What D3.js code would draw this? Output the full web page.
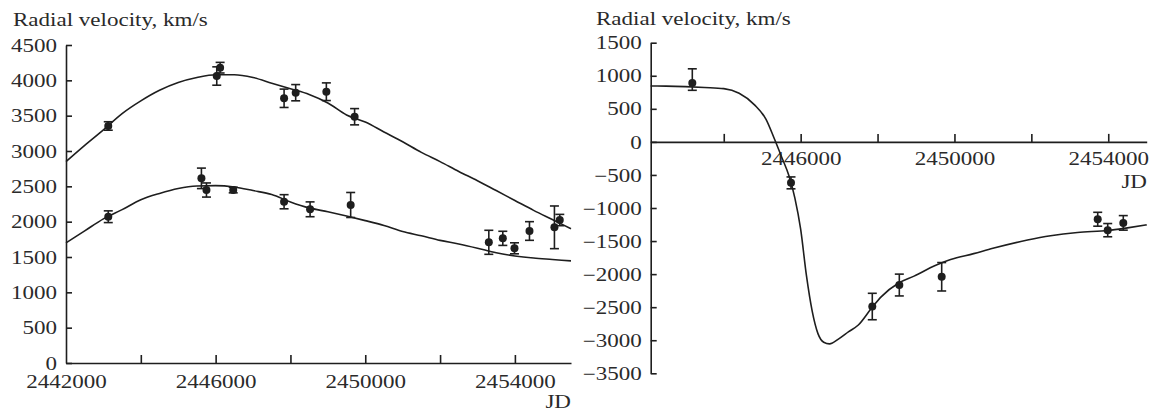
<!DOCTYPE html>
<html>
<head>
<meta charset="utf-8">
<script src="https://cdn.jsdelivr.net/npm/d3@7"></script>
<style>
  html, body { margin: 0; padding: 0; background: #fff; }
  svg { display: block; }
  text { font-family: "Liberation Serif", "Times New Roman", serif; fill: #2a2a2a; }
</style>
</head>
<body>
<svg id="chart" width="1155" height="414"></svg>
<script>
// ---------------- DATA ----------------
// Left panel: observed points [JD, velocity km/s, error]
const leftUpperPoints = [
  [2443130, 3354, 60],
  [2446030, 4061, 130],
  [2446120, 4179, 75],
  [2447830, 3746, 130],
  [2448140, 3825, 115],
  [2448960, 3839, 125],
  [2449715, 3485, 115],
  [2455057, 1920, 302],
  [2455200, 2023, 80]
];
const leftLowerPoints = [
  [2443130, 2070, 83],
  [2445620, 2613, 145],
  [2445755, 2448, 100],
  [2446470, 2448, 40],
  [2447830, 2282, 100],
  [2448525, 2175, 105],
  [2449610, 2236, 177],
  [2453303, 1708, 170],
  [2453677, 1764, 100],
  [2453989, 1623, 78],
  [2454390, 1868, 132]
];
// Left panel model curves [JD, velocity]
const leftUpperCurve = [
  [2442000, 2850], [2442500, 3080], [2443000, 3300], [2443500, 3530],
  [2444000, 3710], [2444500, 3860], [2445000, 3970], [2445500, 4040],
  [2446000, 4080], [2446500, 4080], [2447000, 4040], [2447500, 3960],
  [2448000, 3880], [2448500, 3800], [2449000, 3680], [2449500, 3510],
  [2450000, 3410], [2450500, 3270], [2451000, 3130], [2451500, 2980],
  [2452000, 2850], [2452500, 2710], [2453000, 2580], [2453500, 2440],
  [2454000, 2300], [2454500, 2160], [2455000, 2030], [2455500, 1900]
];
const leftLowerCurve = [
  [2442000, 1700], [2442500, 1870], [2443000, 2040], [2443500, 2170],
  [2444000, 2310], [2444500, 2400], [2445000, 2470], [2445500, 2505],
  [2446000, 2510], [2446500, 2490], [2447000, 2440], [2447500, 2385],
  [2448000, 2280], [2448500, 2195], [2449000, 2140], [2449500, 2080],
  [2450000, 2015], [2450500, 1945], [2451000, 1860], [2451500, 1800],
  [2452000, 1735], [2452500, 1685], [2453000, 1625], [2453500, 1560],
  [2454000, 1515], [2454500, 1485], [2455000, 1465], [2455500, 1445]
];
// Right panel: observed points [JD, velocity, error below, error above]
const rightPoints = [
  [2443182, 890, 110, 215],
  [2445749, -620, 90, 90],
  [2447863, -2490, 200, 200],
  [2448566, -2165, 165, 165],
  [2449668, -2040, 215, 215],
  [2453726, -1170, 105, 105],
  [2453986, -1335, 100, 100],
  [2454391, -1225, 110, 110]
];
const rightCurve = [
  [2442100, 845], [2442500, 843], [2443000, 835], [2443500, 822],
  [2444000, 805], [2444400, 735], [2444800, 560], [2445100, 340],
  [2445300, 70], [2445500, -220], [2445700, -520], [2445850, -850],
  [2446000, -1320], [2446150, -2020], [2446300, -2560], [2446450, -2900],
  [2446600, -3030], [2446750, -3055], [2447000, -2975], [2447250, -2870],
  [2447500, -2770], [2447850, -2510], [2448100, -2340], [2448550, -2135],
  [2448950, -2030], [2449500, -1870], [2449900, -1780], [2450500, -1690],
  [2451000, -1610], [2451900, -1485], [2452500, -1420], [2453200, -1370],
  [2454000, -1340], [2454500, -1300], [2455000, -1255]
];
// Tick values and labels
const leftXTicks = [2442000, 2444000, 2446000, 2448000, 2450000, 2452000, 2454000];
const leftXLabels = [2442000, 2446000, 2450000, 2454000];
const leftYTicks = [0, 500, 1000, 1500, 2000, 2500, 3000, 3500, 4000, 4500];
const rightXTicks = [2444000, 2446000, 2448000, 2450000, 2452000, 2454000];
const rightXLabels = [2446000, 2450000, 2454000];
const rightYTicks = [1500, 1000, 500, 0, -500, -1000, -1500, -2000, -2500, -3000, -3500];
const yTitle = "Radial velocity, km/s";
const xTitle = "JD";

// ---------------- DRAW ----------------
const svg = d3.select("#chart");
const FS = 18;       // font size
const SX = 1.28;     // horizontal glyph stretch of the scanned figure
const INK = "#1e1e1e";

function stretchText(sel) {
  sel.attr("transform", `scale(${SX},1)`);
}

function panel(cfg) {
  const g = svg.append("g");
  const x = cfg.x, y = cfg.y;

  // x axis
  const xAxis = d3.axisBottom(x)
    .tickValues(cfg.xTicks)
    .tickSizeInner(-8).tickSizeOuter(0)
    .tickFormat(d => cfg.xLabels.includes(d) ? String(d) : "");
  const gx = g.append("g").attr("transform", `translate(0,${y(cfg.xAt)})`).call(xAxis);
  gx.selectAll("text").attr("y", cfg.xLabelY).attr("dy", 0)
    .attr("font-size", FS).attr("font-family", "Liberation Serif, serif")
    .style("fill", "#2a2a2a").call(stretchText);
  gx.select(".domain").attr("stroke", INK).attr("stroke-width", 1.6);
  gx.selectAll(".tick line").attr("stroke", INK).attr("stroke-width", 1.6);
  if (cfg.hideFirstTickLine) gx.selectAll(".tick line").filter(d => d === cfg.xTicks[0]).remove();

  // y axis
  const yAxis = d3.axisLeft(y)
    .tickValues(cfg.yTicks)
    .tickSizeInner(-6).tickSizeOuter(0)
    .tickFormat(d3.format("d"));
  const gy = g.append("g").attr("transform", `translate(${x.range()[0]},0)`).call(yAxis);
  gy.selectAll("text").attr("x", -9 / SX).attr("dy", "0.34em")
    .attr("font-size", FS).attr("font-family", "Liberation Serif, serif")
    .style("fill", "#2a2a2a").call(stretchText);
  gy.select(".domain").attr("stroke", INK).attr("stroke-width", 1.6);
  gy.selectAll(".tick line").attr("stroke", INK).attr("stroke-width", 1.6);

  // titles
  g.append("text").attr("font-size", FS)
    .attr("transform", `translate(${cfg.titlePos[0]},${cfg.titlePos[1]}) scale(${SX},1)`)
    .text(yTitle);
  g.append("text").attr("font-size", FS).attr("text-anchor", "end")
    .attr("transform", `translate(${cfg.jdPos[0]},${cfg.jdPos[1]}) scale(${SX},1)`)
    .text(xTitle);

  // curves
  const line = d3.line().x(d => x(d[0])).y(d => y(d[1])).curve(d3.curveMonotoneX);
  cfg.curves.forEach(c => {
    g.append("path").datum(c).attr("d", line)
      .attr("fill", "none").attr("stroke", INK).attr("stroke-width", 1.6);
  });

  // points with error bars
  cfg.points.forEach(pts => {
    const pg = g.append("g");
    pts.forEach(p => {
      const lo = p[2], hi = p.length > 3 ? p[3] : p[2];
      const px = x(p[0]);
      const y1 = y(p[1] - lo), y2 = y(p[1] + hi);
      pg.append("line").attr("x1", px).attr("x2", px).attr("y1", y1).attr("y2", y2)
        .attr("stroke", INK).attr("stroke-width", 1.6);
      [y1, y2].forEach(yy => pg.append("line")
        .attr("x1", px - 4.5).attr("x2", px + 4.5).attr("y1", yy).attr("y2", yy)
        .attr("stroke", INK).attr("stroke-width", 1.6));
      pg.append("circle").attr("cx", px).attr("cy", y(p[1])).attr("r", 4).attr("fill", INK);
    });
  });
}

panel({
  x: d3.scaleLinear([2442000, 2455500], [66, 571]),
  y: d3.scaleLinear([0, 4500], [363, 45]),
  xAt: 0,
  xTicks: leftXTicks, xLabels: leftXLabels, xLabelY: 25,
  yTicks: leftYTicks,
  hideFirstTickLine: true,
  titlePos: [13, 26], jdPos: [571, 408],
  curves: [leftUpperCurve, leftLowerCurve],
  points: [leftUpperPoints, leftLowerPoints]
});

panel({
  x: d3.scaleLinear([2442100, 2455000], [650.7, 1146.7]),
  y: d3.scaleLinear([-3500, 1500], [373.3, 42.7]),
  xAt: 0,
  xTicks: rightXTicks, xLabels: rightXLabels, xLabelY: 23,
  yTicks: rightYTicks,
  hideFirstTickLine: false,
  titlePos: [596, 25], jdPos: [1147, 188],
  curves: [rightCurve],
  points: [rightPoints]
});
</script>
</body>
</html>
